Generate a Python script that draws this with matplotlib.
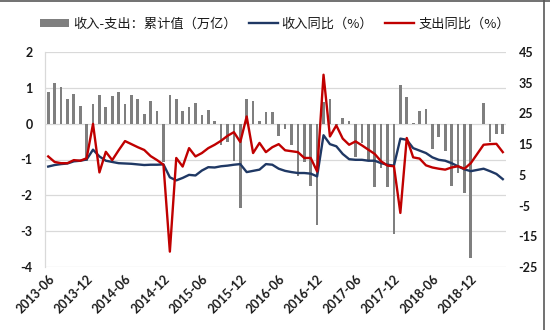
import numpy as np
import pandas as pd
import matplotlib
matplotlib.use("Agg")
import matplotlib.pyplot as plt
from matplotlib.patches import Patch
from matplotlib.lines import Line2D
from matplotlib.font_manager import FontProperties

# Monthly series, 2013-06 .. 2019-05 (2019-01 not reported)
months = pd.period_range("2013-06", periods=72, freq="M").strftime("%Y-%m").tolist()

# 收入-支出 累计值 (万亿元)
balance = [
    0.89, 1.14, 1.03, 0.68, 0.84, 0.50, -1.03,
    0.54, 0.79, 0.47, 0.77, 0.87, 0.56, 0.79, 0.69, 0.28, 0.64, 0.34, -1.08,
    0.80, 0.68, 0.34, 0.46, 0.58, 0.23, 0.38, 0.07, -0.60, -0.51, -1.03, -2.36,
    0.69, 0.63, 0.07, 0.33, 0.33, -0.35, -0.15, -0.59, -1.45, -1.08, -1.74, -2.84,
    0.60, 0.68, -0.03, 0.17, 0.07, -0.92, -0.55, -1.00, -1.76, -1.25, -1.76, -3.07,
    1.08, 0.75, 0.02, 0.34, 0.40, -0.72, -0.37, -0.75, -1.74, -1.38, -1.94, -3.76,
    np.nan, 0.59, -0.51, -0.28, -0.28,
]

# 收入同比 (%)
revenue_yoy = [
    7.7, 8.2, 8.5, 8.7, 9.4, 9.6, 10.0,
    13.2, 11.0, 9.6, 9.2, 8.8, 8.7, 8.6, 8.4, 8.2, 8.3, 8.3, 8.4,
    4.2, 3.2, 4.0, 5.0, 4.8, 6.4, 7.5, 7.4, 7.8, 8.0, 8.3, 8.5,
    5.9, 6.3, 6.7, 8.5, 8.3, 7.0, 6.3, 5.9, 5.6, 5.6, 5.4, 4.5,
    17.9, 15.0, 14.3, 11.8, 10.1, 9.9, 9.9, 9.6, 9.6, 8.8, 8.3, 8.0,
    16.8, 16.4, 13.7, 12.9, 12.1, 10.7, 9.9, 9.6, 8.8, 7.8, 6.8, 6.2,
    np.nan, 7.0, 6.2, 5.3, 3.6,
]

# 支出同比 (%)
spending_yoy = [
    11.0, 9.2, 8.8, 8.8, 9.8, 9.6, 10.4,
    21.6, 5.8, 12.5, 9.8, 13.0, 16.0, 15.0, 14.0, 13.1, 11.1, 9.8, 8.3,
    -20.0, 10.5, 7.7, 13.7, 11.0, 12.1, 13.7, 14.8, 16.1, 17.7, 18.9, 15.7,
    24.0, 12.1, 15.4, 12.4, 14.0, 15.0, 13.0, 12.7, 12.4, 10.5, 10.5, 6.1,
    37.6, 17.5, 21.1, 16.8, 14.8, 15.9, 14.6, 13.2, 11.8, 9.4, 8.0, 7.8,
    -7.4, 17.0, 10.7, 10.3, 8.1, 7.4, 7.0, 6.7, 7.4, 7.8, 7.0, 8.8,
    np.nan, 14.8, 15.0, 15.1, 12.4,
]

xtick_labels = ["2013-06", "2013-12", "2014-06", "2014-12", "2015-06", "2015-12",
                "2016-06", "2016-12", "2017-06", "2017-12", "2018-06", "2018-12"]
left_ticks = [2, 1, 0, -1, -2, -3, -4]
right_ticks = [45, 35, 25, 15, 5, -5, -15, -25]

legend_labels = ["收入-支出：累计值（万亿）", "收入同比（%）", "支出同比（%）"]

BAR = "#7f7f7f"
NAVY = "#1f3864"
RED = "#c00000"
GRID = "#d9d9d9"
TXT = "#1a1a1a"

tick_font = FontProperties(family=["Lato", "DejaVu Sans"], weight="bold", size=9)
cjk_font = FontProperties(family=["Noto Sans CJK SC", "DejaVu Sans"], size=9.5)

fig = plt.figure(figsize=(5.5, 3.3), dpi=100)
W, H = 550, 330
ax = fig.add_axes([45 / W, 1 - 267 / H, (506 - 45) / W, (267 - 52) / H])

x = np.arange(len(months))
bal = np.array(balance, dtype=float)
rev = np.array(revenue_yoy, dtype=float)
spd = np.array(spending_yoy, dtype=float)

ax.bar(x, bal, width=0.42, color=BAR, zorder=2)
ax.set_xlim(-0.5, len(months) - 0.5)
ax.set_ylim(min(left_ticks), max(left_ticks))
ax.set_yticks(left_ticks)
ax.set_yticklabels([str(t) for t in left_ticks])
ax.yaxis.grid(True, color=GRID, lw=0.9, zorder=0)
ax.set_axisbelow(True)
for s in ("top", "right", "bottom"):
    ax.spines[s].set_visible(False)
ax.spines["left"].set_color(GRID)
ax.spines["left"].set_linewidth(0.9)

pos = [months.index(m) for m in xtick_labels]
ax.set_xticks(pos)
ax.set_xticklabels(xtick_labels, rotation=45, ha="right", rotation_mode="anchor")
ax.tick_params(axis="x", length=0, pad=4)
ax.tick_params(axis="y", length=0, pad=9)
for lab in ax.get_xticklabels() + ax.get_yticklabels():
    lab.set_fontproperties(tick_font)
    lab.set_color(TXT)

ax2 = ax.twinx()
ok = ~np.isnan(rev)
ax2.plot(x[ok], rev[ok], color=NAVY, lw=1.7, zorder=3)
ok = ~np.isnan(spd)
ax2.plot(x[ok], spd[ok], color=RED, lw=1.7, zorder=4)
ax2.set_ylim(min(right_ticks), max(right_ticks))
ax2.set_yticks(right_ticks)
ax2.set_yticklabels([str(t) for t in right_ticks])
for s in ax2.spines.values():
    s.set_visible(False)
ax2.tick_params(axis="y", length=0, pad=9)
for lab in ax2.get_yticklabels():
    lab.set_fontproperties(tick_font)
    lab.set_color(TXT)

handles = [Patch(facecolor=BAR, edgecolor="none"),
           Line2D([], [], color=NAVY, lw=1.7),
           Line2D([], [], color=RED, lw=1.7)]
leg = fig.legend(handles, legend_labels, loc="center", bbox_to_anchor=(0.5, 1 - 24 / H),
                 ncol=3, frameon=False, prop=cjk_font, handlelength=2.2,
                 handleheight=0.55, handletextpad=0.3, columnspacing=0.9)
for t in leg.get_texts():
    t.set_color(TXT)

# frame edges of the chart area
fig.add_artist(Line2D([0, 1], [1 - 0.5 / H, 1 - 0.5 / H], transform=fig.transFigure,
                      color="#595959", lw=1.2))
fig.add_artist(Line2D([544 / W, 544 / W], [0, 1], transform=fig.transFigure,
                      color="#595959", lw=1.2))

fig.savefig("out.png", dpi=100)
